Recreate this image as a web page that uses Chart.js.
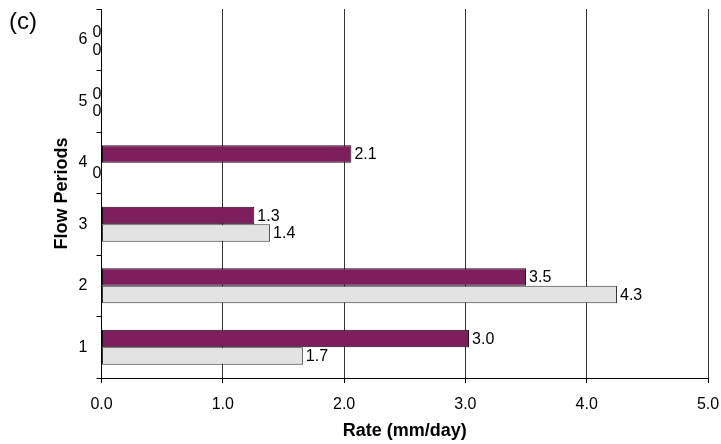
<!DOCTYPE html>
<html>
<head>
<meta charset="utf-8">
<script src="https://cdn.jsdelivr.net/npm/chart.js@4"></script>
<style>
  html, body { margin: 0; padding: 0; background: #fff; }
  #wrap { width: 721px; height: 444px; position: relative; }
</style>
</head>
<body>
<div id="wrap"><canvas id="chart" width="721" height="444"></canvas></div>
<script>
// Flow periods (bottom to top) and rates in mm/day
const periods = ['1', '2', '3', '4', '5', '6'];
const ratePurple = [3.03, 3.50, 1.26, 2.06, 0, 0];
const rateGray = [1.66, 4.25, 1.39, 0, 0, 0];
const xMin = 0;
const xMax = 5;
const xStep = 1;

const FONT = '"Liberation Sans", Arial, sans-serif';

// etykiety wartości przy końcach słupków
const valueLabels = {
  id: 'valueLabels',
  afterDatasetsDraw(chart) {
    const ctx = chart.ctx;
    ctx.save();
    ctx.font = '16px ' + FONT;
    ctx.fillStyle = '#000';
    ctx.textAlign = 'left';
    ctx.textBaseline = 'middle';
    chart.data.datasets.forEach((ds, di) => {
      const meta = chart.getDatasetMeta(di);
      meta.data.forEach((bar, i) => {
        const v = ds.data[i];
        if (v === 0) {
          ctx.fillText('0', bar.x - 9, bar.y + 2);
        } else {
          ctx.fillText(v.toFixed(1), bar.x + 3, bar.y + 1);
        }
      });
    });
    ctx.restore();
  }
};

const panelTag = {
  id: 'panelTag',
  afterDraw(chart) {
    const ctx = chart.ctx;
    ctx.save();
    ctx.font = '24px ' + FONT;
    ctx.fillStyle = '#000';
    ctx.textBaseline = 'alphabetic';
    ctx.fillText('(c)', 9, 29);
    ctx.restore();
  }
};

new Chart(document.getElementById('chart'), {
  type: 'bar',
  data: {
    labels: periods,
    datasets: [
      {
        label: 'Purple',
        data: ratePurple,
        backgroundColor: '#7D1F5D',
        borderColor: '#1a0a14',
        borderWidth: 1,
        borderSkipped: false,
        categoryPercentage: 0.57,
        barPercentage: 1.0
      },
      {
        label: 'Gray',
        data: rateGray,
        backgroundColor: '#E3E3E3',
        borderColor: '#333',
        borderWidth: 1,
        borderSkipped: false,
        categoryPercentage: 0.57,
        barPercentage: 1.0
      }
    ]
  },
  options: {
    indexAxis: 'y',
    responsive: false,
    animation: false,
    layout: { padding: { left: 46, right: 13, top: 9, bottom: 0 } },
    plugins: {
      legend: { display: false },
      tooltip: { enabled: false }
    },
    scales: {
      x: {
        type: 'linear',
        min: xMin,
        max: xMax,
        ticks: {
          stepSize: xStep,
          color: '#000',
          padding: 12,
          font: { family: FONT, size: 16 },
          callback: v => Number(v).toFixed(1)
        },
        grid: {
          color: '#333',
          tickColor: '#000',
          tickLength: 5,
          lineWidth: 1
        },
        border: { display: true, color: '#000', width: 1 },
        title: {
          display: true,
          text: 'Rate (mm/day)',
          color: '#000',
          font: { family: FONT, size: 18, weight: 'bold' },
          padding: { top: 0, bottom: 2 }
        },
        afterFit: scale => {
          scale.height = 66;
          scale.paddingLeft = 0;
          scale.paddingRight = 0;
        }
      },
      y: {
        type: 'category',
        reverse: true,
        ticks: {
          color: '#000',
          padding: 9,
          font: { family: FONT, size: 16 }
        },
        grid: {
          drawOnChartArea: false,
          tickLength: 5,
          tickColor: c => (c.index === periods.length ? 'rgba(0,0,0,0)' : '#000')
        },
        border: { display: true, color: '#000', width: 1 },
        title: {
          display: true,
          text: 'Flow Periods',
          color: '#000',
          font: { family: FONT, size: 18, weight: 'bold' },
          padding: { top: 5, bottom: 0 }
        },
        afterFit: scale => {
          scale.width = 55.5;
          scale.paddingTop = 0;
          scale.paddingBottom = 0;
        }
      }
    }
  },
  plugins: [valueLabels, panelTag]
});
</script>
</body>
</html>
